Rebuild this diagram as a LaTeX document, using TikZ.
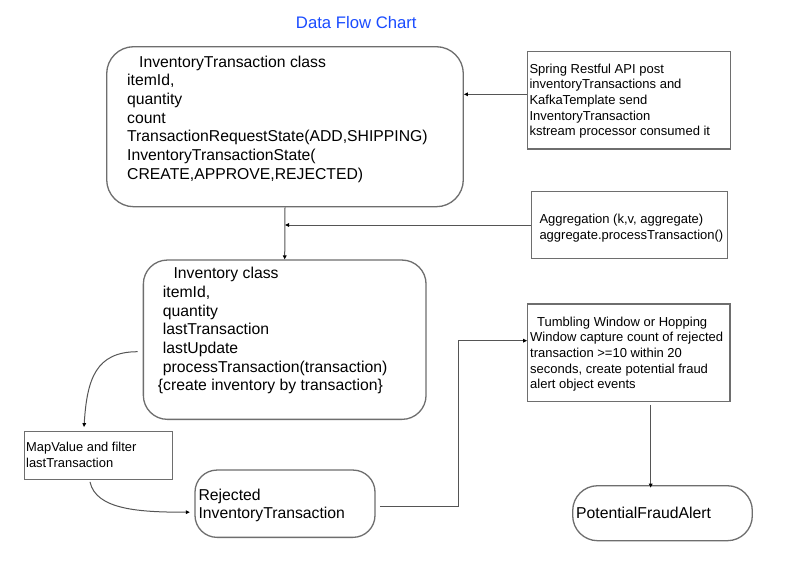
\documentclass[tikz,border=0pt]{standalone}
\usepackage{fontspec}
\setmainfont{Liberation Sans}
\usetikzlibrary{arrows.meta}
\definecolor{titleblue}{HTML}{1A4CFF}
\definecolor{boxgray}{HTML}{6E6E6E}
\definecolor{linegray}{HTML}{555555}
\begin{document}
\begin{tikzpicture}[x=1pt,y=-1pt,
  rbox/.style={draw=boxgray,line width=1.3pt,inner sep=0pt,rounded corners=#1},
  rbox/.default=24pt,
  sbox/.style={draw=boxgray,line width=1.2pt,inner sep=0pt},
  txt/.style={anchor=north west,inner sep=0pt,align=left,text=black},
  big/.style={font=\fontsize{15.75}{18.7}\selectfont},
  small/.style={font=\fontsize{13}{15.7}\selectfont},
  arr/.style={draw=linegray,line width=1pt,-{Triangle[length=4pt,width=3.6pt,color=black]}}
]
\useasboundingbox (0,0) rectangle (789,568);
\fill[white] (0,0) rectangle (789,568);

% title
\node[anchor=base,inner sep=0pt,text=titleblue,font=\fontsize{16.7}{20}\selectfont] (title) at (356.3,28.3) {Data Flow Chart};

% boxes
\node[rbox=27pt,minimum width=356.6pt,minimum height=160pt] (box1) at (285,126.7) {};
\node[sbox,minimum width=203.4pt,minimum height=97.3pt] (spring) at (629,100.3) {};
\node[sbox,minimum width=195.6pt,minimum height=66.6pt] (agg) at (629.5,225) {};
\node[rbox=24pt,minimum width=282.7pt,minimum height=159.3pt] (inv) at (284.7,339.7) {};
\node[sbox,minimum width=147.6pt,minimum height=47.6pt] (map) at (98.5,455.5) {};
\node[rbox=22pt,minimum width=180pt,minimum height=67.3pt] (rej) at (285,503.7) {};
\node[sbox,minimum width=202.3pt,minimum height=97.7pt] (tumb) at (628.9,352.9) {};
\node[rbox=25pt,minimum width=179.6pt,minimum height=55pt] (pfa) at (662.5,513.2) {};

% texts
\node[txt,big] (t1) at (127,55.4) {\hspace*{12pt}InventoryTransaction class\\itemId,\\quantity\\count\\TransactionRequestState(ADD,SHIPPING)\\InventoryTransactionState(\\CREATE,APPROVE,REJECTED)};
\node[txt,small] (t2) at (529.3,63.4) {Spring Restful API post\\inventoryTransactions and\\KafkaTemplate send\\InventoryTransaction\\kstream processor consumed it};
\node[txt,font=\fontsize{13}{16}\selectfont] (t3) at (539.3,213.4) {Aggregation (k,v, aggregate)\\aggregate.processTransaction()};
\node[txt,big] (t4) at (157.7,267) {\hspace*{15.6pt}Inventory class\\\hspace*{5pt}itemId,\\\hspace*{5pt}quantity\\\hspace*{5pt}lastTransaction\\\hspace*{5pt}lastUpdate\\\hspace*{5pt}processTransaction(transaction)\\\{create inventory by transaction\}};
\node[txt,font=\fontsize{12.9}{15.7}\selectfont] (t5) at (26,442.4) {MapValue and filter\\lastTransaction};
\node[txt,font=\fontsize{15.75}{18.3}\selectfont] (t6) at (198.3,488.7) {Rejected\\InventoryTransaction};
\node[txt,font=\fontsize{13}{15.6}\selectfont] (t7) at (530,316.6) {\hspace*{7pt}Tumbling Window or Hopping\\Window capture count of rejected\\transaction >=10 within 20\\seconds, create potential fraud\\alert object events};
\node[anchor=base west,inner sep=0pt,big] (t8) at (576,518.3) {PotentialFraudAlert};

% connectors
\draw[arr] ([yshift=6pt]spring.west) -- ([yshift=6pt]spring.west -| box1.east);
\draw[arr] (box1.south) -- (inv.north);
\draw[arr] (agg.west) -- (agg.west -| box1.south);
\draw[arr] ([xshift=-5pt,yshift=-12pt]inv.west) .. controls +(-42,0) and +(3,-48) .. ([xshift=-14.5pt,yshift=4pt]map.north);
\draw[arr] ([xshift=-8.5pt,yshift=-2pt]map.south) .. controls +(6,28) and +(-50,0) .. ([xshift=-4.5pt,yshift=-8.5pt]rej.west);
\coordinate (k1) at (458.3,340.7);
\draw[arr] ([xshift=4.3pt,yshift=-2.5pt]rej.east) -| (k1) -- (k1 -| tumb.west);
\draw[arr] ([xshift=21.8pt,yshift=-2.6pt]tumb.south) -- ([xshift=21.8pt,yshift=-2.6pt]tumb.south |- pfa.north);
\end{tikzpicture}
\end{document}
